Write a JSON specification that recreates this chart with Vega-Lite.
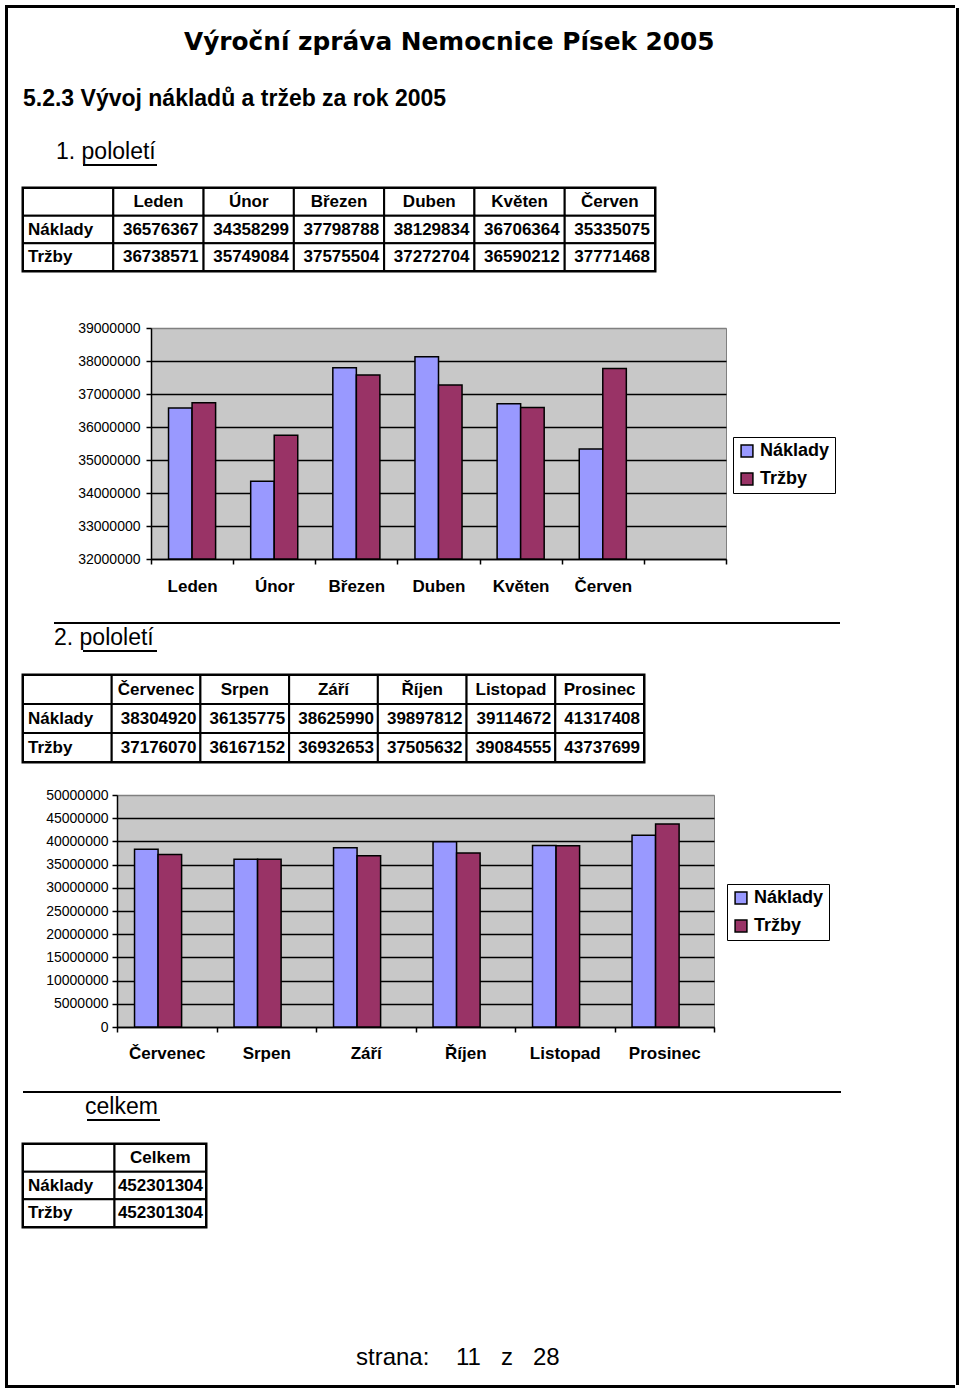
{
"$schema": "https://vega.github.io/schema/vega-lite/v6.json",
"background": "white",
"padding": {"left": 5, "top": 5, "right": 0, "bottom": 0},
"config": {
  "view": {"stroke": null},
  "font": "Liberation Sans",
  "concat": {"spacing": 0},
  "title": {"color": "black", "font": "Liberation Sans"},
  "axis": {"labelFont": "Liberation Sans", "labelColor": "black", "domainColor": "black", "tickColor": "black", "domainWidth": 1.5, "tickWidth": 1.5}
},
"datasets": {
  "t1": [
    {"r": "hlava", "c": "popis", "t": ""},
    {"r": "hlava", "c": "Leden", "t": "Leden"},
    {"r": "hlava", "c": "Únor", "t": "Únor"},
    {"r": "hlava", "c": "Březen", "t": "Březen"},
    {"r": "hlava", "c": "Duben", "t": "Duben"},
    {"r": "hlava", "c": "Květen", "t": "Květen"},
    {"r": "hlava", "c": "Červen", "t": "Červen"},
    {"r": "Náklady", "c": "popis", "t": "Náklady"},
    {"r": "Náklady", "c": "Leden", "t": "36576367"},
    {"r": "Náklady", "c": "Únor", "t": "34358299"},
    {"r": "Náklady", "c": "Březen", "t": "37798788"},
    {"r": "Náklady", "c": "Duben", "t": "38129834"},
    {"r": "Náklady", "c": "Květen", "t": "36706364"},
    {"r": "Náklady", "c": "Červen", "t": "35335075"},
    {"r": "Tržby", "c": "popis", "t": "Tržby"},
    {"r": "Tržby", "c": "Leden", "t": "36738571"},
    {"r": "Tržby", "c": "Únor", "t": "35749084"},
    {"r": "Tržby", "c": "Březen", "t": "37575504"},
    {"r": "Tržby", "c": "Duben", "t": "37272704"},
    {"r": "Tržby", "c": "Květen", "t": "36590212"},
    {"r": "Tržby", "c": "Červen", "t": "37771468"}
  ],
  "t2": [
    {"r": "hlava", "c": "popis", "t": ""},
    {"r": "hlava", "c": "Červenec", "t": "Červenec"},
    {"r": "hlava", "c": "Srpen", "t": "Srpen"},
    {"r": "hlava", "c": "Září", "t": "Září"},
    {"r": "hlava", "c": "Říjen", "t": "Říjen"},
    {"r": "hlava", "c": "Listopad", "t": "Listopad"},
    {"r": "hlava", "c": "Prosinec", "t": "Prosinec"},
    {"r": "Náklady", "c": "popis", "t": "Náklady"},
    {"r": "Náklady", "c": "Červenec", "t": "38304920"},
    {"r": "Náklady", "c": "Srpen", "t": "36135775"},
    {"r": "Náklady", "c": "Září", "t": "38625990"},
    {"r": "Náklady", "c": "Říjen", "t": "39897812"},
    {"r": "Náklady", "c": "Listopad", "t": "39114672"},
    {"r": "Náklady", "c": "Prosinec", "t": "41317408"},
    {"r": "Tržby", "c": "popis", "t": "Tržby"},
    {"r": "Tržby", "c": "Červenec", "t": "37176070"},
    {"r": "Tržby", "c": "Srpen", "t": "36167152"},
    {"r": "Tržby", "c": "Září", "t": "36932653"},
    {"r": "Tržby", "c": "Říjen", "t": "37505632"},
    {"r": "Tržby", "c": "Listopad", "t": "39084555"},
    {"r": "Tržby", "c": "Prosinec", "t": "43737699"}
  ],
  "t3": [
    {"r": "hlava", "c": "popis", "t": ""},
    {"r": "hlava", "c": "Celkem", "t": "Celkem"},
    {"r": "Náklady", "c": "popis", "t": "Náklady"},
    {"r": "Náklady", "c": "Celkem", "t": "452301304"},
    {"r": "Tržby", "c": "popis", "t": "Tržby"},
    {"r": "Tržby", "c": "Celkem", "t": "452301304"}
  ],
  "h1": [
    {"mesic": "Leden", "rada": "Náklady", "hodnota": 36576367},
    {"mesic": "Únor", "rada": "Náklady", "hodnota": 34358299},
    {"mesic": "Březen", "rada": "Náklady", "hodnota": 37798788},
    {"mesic": "Duben", "rada": "Náklady", "hodnota": 38129834},
    {"mesic": "Květen", "rada": "Náklady", "hodnota": 36706364},
    {"mesic": "Červen", "rada": "Náklady", "hodnota": 35335075},
    {"mesic": "Leden", "rada": "Tržby", "hodnota": 36738571},
    {"mesic": "Únor", "rada": "Tržby", "hodnota": 35749084},
    {"mesic": "Březen", "rada": "Tržby", "hodnota": 37575504},
    {"mesic": "Duben", "rada": "Tržby", "hodnota": 37272704},
    {"mesic": "Květen", "rada": "Tržby", "hodnota": 36590212},
    {"mesic": "Červen", "rada": "Tržby", "hodnota": 37771468}
  ],
  "h2": [
    {"mesic": "Červenec", "rada": "Náklady", "hodnota": 38304920},
    {"mesic": "Srpen", "rada": "Náklady", "hodnota": 36135775},
    {"mesic": "Září", "rada": "Náklady", "hodnota": 38625990},
    {"mesic": "Říjen", "rada": "Náklady", "hodnota": 39897812},
    {"mesic": "Listopad", "rada": "Náklady", "hodnota": 39114672},
    {"mesic": "Prosinec", "rada": "Náklady", "hodnota": 41317408},
    {"mesic": "Červenec", "rada": "Tržby", "hodnota": 37176070},
    {"mesic": "Srpen", "rada": "Tržby", "hodnota": 36167152},
    {"mesic": "Září", "rada": "Tržby", "hodnota": 36932653},
    {"mesic": "Říjen", "rada": "Tržby", "hodnota": 37505632},
    {"mesic": "Listopad", "rada": "Tržby", "hodnota": 39084555},
    {"mesic": "Prosinec", "rada": "Tržby", "hodnota": 43737699}
  ]
},
"spacing": 0,
"resolve": {"scale": {"color": "independent"}, "legend": {"color": "independent"}},
"vconcat": [
  {"width": 950, "height": 3, "data": {"values": [{}]}, "mark": {"type": "rect", "fill": "black"}, "encoding": {}},
  {"spacing": 0,
   "resolve": {"scale": {"color": "independent"}, "legend": {"color": "independent"}},
   "hconcat": [
    {"width": 3, "height": 1377, "data": {"values": [{}]}, "mark": {"type": "rect", "fill": "black"}, "encoding": {}},
    {"width": 12, "height": 1, "data": {"values": [{}]}, "mark": {"type": "rect", "fill": "white"}, "encoding": {}},
    {"spacing": 0,
     "resolve": {"scale": {"color": "independent"}, "legend": {"color": "independent"}},
     "vconcat": [
      {"width": 1, "height": 22, "data": {"values": [{}]}, "mark": {"type": "rect", "fill": "white"}, "encoding": {},
       "title": {"text": "Výroční zpráva Nemocnice Písek 2005", "orient": "bottom", "anchor": "start", "dx": 161, "offset": 0, "font": "DejaVu Sans", "fontSize": 24.8, "fontWeight": "bold"}},
      {"width": 1, "height": 33.3, "data": {"values": [{}]}, "mark": {"type": "rect", "fill": "white"}, "encoding": {},
       "title": {"text": "5.2.3 Vývoj nákladů a tržeb za rok 2005", "orient": "bottom", "anchor": "start", "dx": 0, "offset": 0, "font": "Liberation Sans", "fontSize": 23, "fontWeight": "bold", "color": "black"}},
      {"width": 1, "height": 28.5, "data": {"values": [{}]}, "mark": {"type": "rect", "fill": "white"}, "encoding": {},
       "title": {"text": "1. pololetí", "orient": "bottom", "anchor": "start", "dx": 33, "offset": 0, "fontSize": 23, "fontWeight": "normal"}},
      {"spacing": 0, "hconcat": [
        {"width": 58.6, "height": 1, "data": {"values": [{}]}, "mark": {"type": "rect", "fill": "white"}, "encoding": {}},
        {"width": 74, "height": 19.2, "data": {"values": [{}]}, "mark": {"type": "rule", "color": "black", "strokeWidth": 2},
         "encoding": {"y": {"datum": 1, "type": "quantitative", "scale": {"domain": [0, 1]}, "axis": null}}}
      ]},
      {"width": 632, "height": 83, "view": {"stroke": "black", "strokeWidth": 3},
       "data": {"name": "t1"},
       "encoding": {
         "x": {"field": "c", "type": "nominal", "scale": {"domain": ["popis", "Leden", "Únor", "Březen", "Duben", "Květen", "Červen"], "paddingInner": 0, "paddingOuter": 0}, "axis": null},
         "y": {"field": "r", "type": "nominal", "scale": {"domain": ["hlava", "Náklady", "Tržby"], "paddingInner": 0, "paddingOuter": 0}, "axis": null}
       },
       "layer": [
         {"mark": {"type": "rect", "fill": "white", "stroke": "black", "strokeWidth": 2}},
         {"transform": [{"filter": "datum.r === 'hlava'"}], "mark": {"type": "text", "fontSize": 17, "fontWeight": "bold", "align": "center", "baseline": "middle", "color": "black"}, "encoding": {"text": {"field": "t"}}},
         {"transform": [{"filter": "datum.c === 'popis' && datum.r !== 'hlava'"}], "mark": {"type": "text", "fontSize": 17, "fontWeight": "bold", "align": "left", "baseline": "middle", "dx": 5, "color": "black"}, "encoding": {"x": {"field": "c", "type": "nominal", "bandPosition": 0}, "text": {"field": "t"}}},
         {"transform": [{"filter": "datum.c !== 'popis' && datum.r !== 'hlava'"}], "mark": {"type": "text", "fontSize": 17, "fontWeight": "bold", "align": "right", "baseline": "middle", "dx": -5, "color": "black"}, "encoding": {"x": {"field": "c", "type": "nominal", "bandPosition": 1}, "text": {"field": "t"}}}
       ]},
      {"width": 1, "height": 46, "data": {"values": [{}]}, "mark": {"type": "rect", "fill": "white"}, "encoding": {}},
      {"spacing": 0,
       "resolve": {"scale": {"color": "independent"}, "legend": {"color": "independent"}},
       "hconcat": [
        {"width": 1, "height": 1, "data": {"values": [{}]}, "mark": {"type": "rect", "fill": "white"}, "encoding": {}},
        {"width": 575, "height": 231,
         "view": {"fill": "#C8C8C8", "stroke": "#808080", "strokeWidth": 1},
         "data": {"name": "h1"},
         "mark": {"type": "bar", "stroke": "black", "strokeWidth": 1.5},
         "encoding": {
           "x": {"field": "mesic", "type": "nominal", "scale": {"domain": ["Leden", "Únor", "Březen", "Duben", "Květen", "Červen", ""], "paddingInner": 0, "paddingOuter": 0},
                 "axis": {"title": null, "labelAngle": 0, "tickBand": "extent", "tickSize": 5, "labelPadding": 14, "labelFontSize": 17, "labelFontWeight": "bold"}},
           "xOffset": {"field": "rada", "type": "nominal", "scale": {"domain": ["Náklady", "Tržby"], "paddingInner": 0, "paddingOuter": 0.745}},
           "y": {"field": "hodnota", "type": "quantitative", "scale": {"domain": [32000000, 39000000], "zero": false, "nice": false},
                 "axis": {"title": null, "values": [32000000, 33000000, 34000000, 35000000, 36000000, 37000000, 38000000, 39000000], "format": "d", "grid": true,
                          "gridColor": {"condition": {"test": "datum.value === 39000000", "value": "#808080"}, "value": "black"}, "gridWidth": 1.5,
                          "tickSize": 5, "labelPadding": 6, "minExtent": 126, "labelFontSize": 14}},
           "y2": {"datum": 32000000},
           "color": {"field": "rada", "type": "nominal", "scale": {"domain": ["Náklady", "Tržby"], "range": ["#9999FF", "#993366"]},
                     "legend": {"title": null, "orient": "none", "legendX": 582, "legendY": 109, "symbolType": "square", "symbolSize": 140, "symbolStrokeColor": "black", "symbolStrokeWidth": 1.5,
                                "labelFont": "Liberation Sans", "labelFontWeight": "bold", "labelFontSize": 18, "labelColor": "black", "strokeColor": "black", "fillColor": "white", "padding": 5, "rowPadding": 10, "labelOffset": 4}}
         }}
      ]},
      {"width": 1, "height": 26.4, "data": {"values": [{}]}, "mark": {"type": "rect", "fill": "white"}, "encoding": {}},
      {"spacing": 0, "hconcat": [
        {"width": 30, "height": 1, "data": {"values": [{}]}, "mark": {"type": "rect", "fill": "white"}, "encoding": {}},
        {"width": 786, "height": 4, "data": {"values": [{}]}, "mark": {"type": "rule", "color": "black", "strokeWidth": 2},
         "encoding": {"y": {"datum": 1, "type": "quantitative", "scale": {"domain": [0, 1]}, "axis": null}},
         "title": {"text": "2. pololetí", "orient": "bottom", "anchor": "start", "dx": 1, "offset": 0, "fontSize": 23, "fontWeight": "normal"}}
      ]},
      {"spacing": 0, "hconcat": [
        {"width": 58.6, "height": 1, "data": {"values": [{}]}, "mark": {"type": "rect", "fill": "white"}, "encoding": {}},
        {"width": 74, "height": 20.2, "data": {"values": [{}]}, "mark": {"type": "rule", "color": "black", "strokeWidth": 2},
         "encoding": {"y": {"datum": 1, "type": "quantitative", "scale": {"domain": [0, 1]}, "axis": null}}}
      ]},
      {"width": 621, "height": 87, "view": {"stroke": "black", "strokeWidth": 3},
       "data": {"name": "t2"},
       "encoding": {
         "x": {"field": "c", "type": "nominal", "scale": {"domain": ["popis", "Červenec", "Srpen", "Září", "Říjen", "Listopad", "Prosinec"], "paddingInner": 0, "paddingOuter": 0}, "axis": null},
         "y": {"field": "r", "type": "nominal", "scale": {"domain": ["hlava", "Náklady", "Tržby"], "paddingInner": 0, "paddingOuter": 0}, "axis": null}
       },
       "layer": [
         {"mark": {"type": "rect", "fill": "white", "stroke": "black", "strokeWidth": 2}},
         {"transform": [{"filter": "datum.r === 'hlava'"}], "mark": {"type": "text", "fontSize": 17, "fontWeight": "bold", "align": "center", "baseline": "middle", "color": "black"}, "encoding": {"text": {"field": "t"}}},
         {"transform": [{"filter": "datum.c === 'popis' && datum.r !== 'hlava'"}], "mark": {"type": "text", "fontSize": 17, "fontWeight": "bold", "align": "left", "baseline": "middle", "dx": 5, "color": "black"}, "encoding": {"x": {"field": "c", "type": "nominal", "bandPosition": 0}, "text": {"field": "t"}}},
         {"transform": [{"filter": "datum.c !== 'popis' && datum.r !== 'hlava'"}], "mark": {"type": "text", "fontSize": 17, "fontWeight": "bold", "align": "right", "baseline": "middle", "dx": -4, "color": "black"}, "encoding": {"x": {"field": "c", "type": "nominal", "bandPosition": 1}, "text": {"field": "t"}}}
       ]},
      {"width": 1, "height": 22, "data": {"values": [{}]}, "mark": {"type": "rect", "fill": "white"}, "encoding": {}},
      {"spacing": 0,
       "resolve": {"scale": {"color": "independent"}, "legend": {"color": "independent"}},
       "hconcat": [
        {"width": 1, "height": 1, "data": {"values": [{}]}, "mark": {"type": "rect", "fill": "white"}, "encoding": {}},
        {"width": 597, "height": 232,
         "view": {"fill": "#C8C8C8", "stroke": "#808080", "strokeWidth": 1},
         "data": {"name": "h2"},
         "mark": {"type": "bar", "stroke": "black", "strokeWidth": 1.5},
         "encoding": {
           "x": {"field": "mesic", "type": "nominal", "scale": {"domain": ["Červenec", "Srpen", "Září", "Říjen", "Listopad", "Prosinec"], "paddingInner": 0, "paddingOuter": 0},
                 "axis": {"title": null, "labelAngle": 0, "tickBand": "extent", "tickSize": 5, "labelPadding": 13, "labelFontSize": 17, "labelFontWeight": "bold"}},
           "xOffset": {"field": "rada", "type": "nominal", "scale": {"domain": ["Náklady", "Tržby"], "paddingInner": 0, "paddingOuter": 0.745}},
           "y": {"field": "hodnota", "type": "quantitative", "scale": {"domain": [0, 50000000], "nice": false},
                 "axis": {"title": null, "values": [0, 5000000, 10000000, 15000000, 20000000, 25000000, 30000000, 35000000, 40000000, 45000000, 50000000], "format": "d", "grid": true,
                          "gridColor": {"condition": {"test": "datum.value === 50000000", "value": "#808080"}, "value": "black"}, "gridWidth": 1.5,
                          "tickSize": 5, "labelPadding": 4, "minExtent": 92, "labelFontSize": 14}},
           "color": {"field": "rada", "type": "nominal", "scale": {"domain": ["Náklady", "Tržby"], "range": ["#9999FF", "#993366"]},
                     "legend": {"title": null, "orient": "none", "legendX": 610, "legendY": 89, "symbolType": "square", "symbolSize": 140, "symbolStrokeColor": "black", "symbolStrokeWidth": 1.5,
                                "labelFont": "Liberation Sans", "labelFontWeight": "bold", "labelFontSize": 18, "labelColor": "black", "strokeColor": "black", "fillColor": "white", "padding": 5, "rowPadding": 10, "labelOffset": 4}}
         }}
      ]},
      {"width": 1, "height": 28.4, "data": {"values": [{}]}, "mark": {"type": "rect", "fill": "white"}, "encoding": {}},
      {"width": 818, "height": 4, "data": {"values": [{}]}, "mark": {"type": "rule", "color": "black", "strokeWidth": 2},
       "encoding": {"y": {"datum": 1, "type": "quantitative", "scale": {"domain": [0, 1]}, "axis": null}},
       "title": {"text": "celkem", "orient": "bottom", "anchor": "start", "dx": 63, "offset": 0, "fontSize": 23, "fontWeight": "normal"}},
      {"spacing": 0, "hconcat": [
        {"width": 63, "height": 1, "data": {"values": [{}]}, "mark": {"type": "rect", "fill": "white"}, "encoding": {}},
        {"width": 73, "height": 20.2, "data": {"values": [{}]}, "mark": {"type": "rule", "color": "black", "strokeWidth": 2},
         "encoding": {"y": {"datum": 1, "type": "quantitative", "scale": {"domain": [0, 1]}, "axis": null}}}
      ]},
      {"width": 183, "height": 83, "view": {"stroke": "black", "strokeWidth": 3},
       "data": {"name": "t3"},
       "encoding": {
         "x": {"field": "c", "type": "nominal", "scale": {"domain": ["popis", "Celkem"], "paddingInner": 0, "paddingOuter": 0}, "axis": null},
         "y": {"field": "r", "type": "nominal", "scale": {"domain": ["hlava", "Náklady", "Tržby"], "paddingInner": 0, "paddingOuter": 0}, "axis": null}
       },
       "layer": [
         {"mark": {"type": "rect", "fill": "white", "stroke": "black", "strokeWidth": 2}},
         {"transform": [{"filter": "datum.r === 'hlava'"}], "mark": {"type": "text", "fontSize": 17, "fontWeight": "bold", "align": "center", "baseline": "middle", "color": "black"}, "encoding": {"text": {"field": "t"}}},
         {"transform": [{"filter": "datum.c === 'popis' && datum.r !== 'hlava'"}], "mark": {"type": "text", "fontSize": 17, "fontWeight": "bold", "align": "left", "baseline": "middle", "dx": 5, "color": "black"}, "encoding": {"x": {"field": "c", "type": "nominal", "bandPosition": 0}, "text": {"field": "t"}}},
         {"transform": [{"filter": "datum.c !== 'popis' && datum.r !== 'hlava'"}], "mark": {"type": "text", "fontSize": 17, "fontWeight": "bold", "align": "right", "baseline": "middle", "dx": -3, "color": "black"}, "encoding": {"x": {"field": "c", "type": "nominal", "bandPosition": 1}, "text": {"field": "t"}}}
       ]},
      {"width": 1, "height": 116, "data": {"values": [{}]}, "mark": {"type": "rect", "fill": "white"}, "encoding": {},
       "title": {"text": "strana:\u00a0\u00a0\u00a0\u00a011\u00a0\u00a0\u00a0z\u00a0\u00a0\u00a028", "orient": "bottom", "anchor": "start", "dx": 333, "offset": 0, "fontSize": 24, "fontWeight": "normal"}}
    ]},
    {"width": 114, "height": 1, "data": {"values": [{}]}, "mark": {"type": "rect", "fill": "white"}, "encoding": {}},
    {"width": 3, "height": 1377, "data": {"values": [{}]}, "mark": {"type": "rect", "fill": "black"}, "encoding": {}}
  ]},
  {"width": 950, "height": 3, "data": {"values": [{}]}, "mark": {"type": "rect", "fill": "black"}, "encoding": {}}
]
}
